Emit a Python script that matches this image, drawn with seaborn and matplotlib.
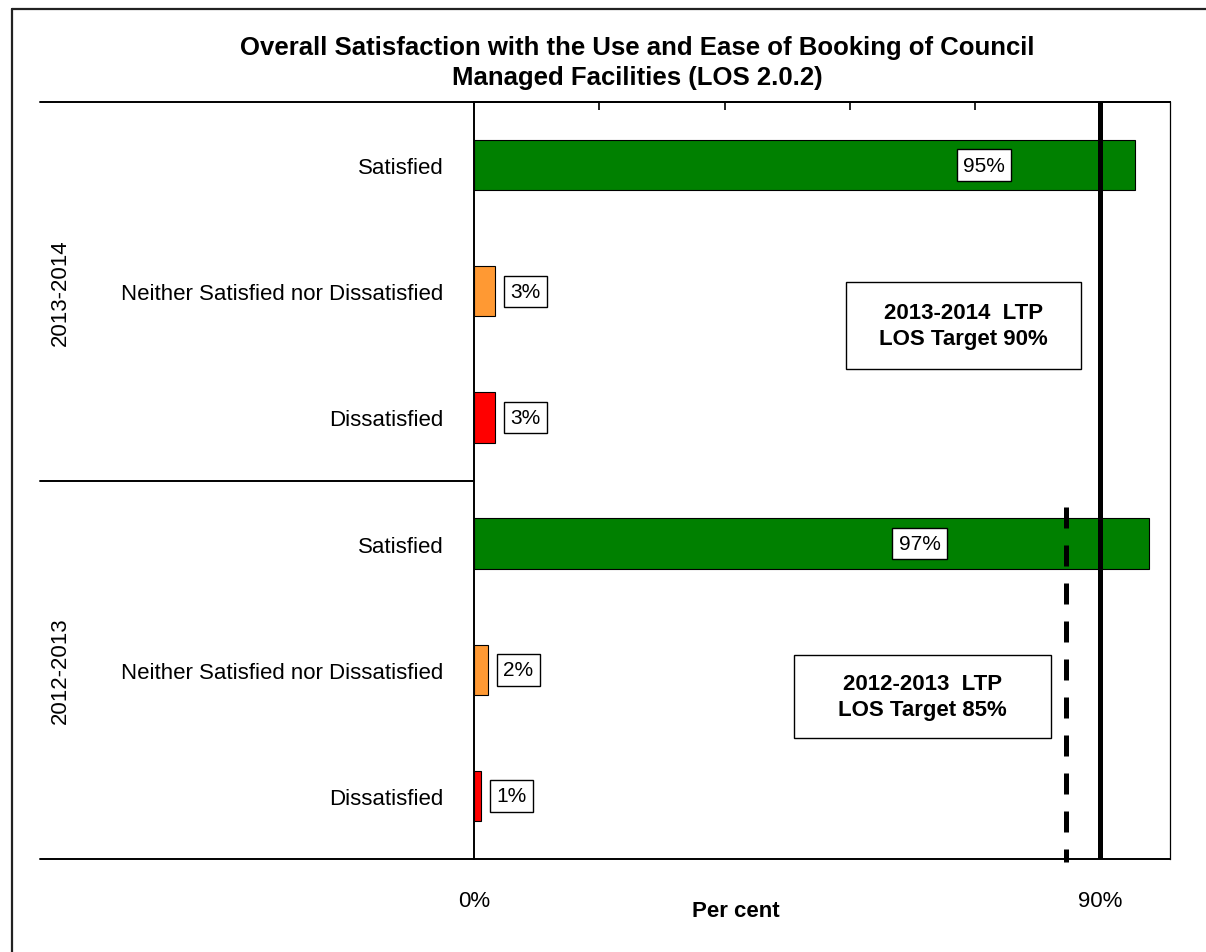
import matplotlib
matplotlib.use("Agg")
import matplotlib.pyplot as plt
import matplotlib.lines as mlines
from matplotlib.patches import Rectangle
import seaborn as sns
import pandas as pd

# ---- data ----
periods = ["2013-2014", "2012-2013"]
categories = ["Satisfied", "Neither Satisfied nor Dissatisfied", "Dissatisfied"]
values_2013_2014 = [95, 3, 3]
values_2012_2013 = [97, 2, 1]
target_2013_2014 = 90
target_2012_2013 = 85
xtick_values = [0, 90]
xtick_labels = ["0%", "90%"]

title = ("Overall Satisfaction with the Use and Ease of Booking of Council\n"
         "Managed Facilities (LOS 2.0.2)")

# ---- style ----
sns.set_theme(style="white")
plt.rcParams["font.family"] = ["Liberation Sans", "DejaVu Sans"]
plt.rcParams.update({"text.color": "black", "axes.labelcolor": "black",
                     "xtick.color": "black", "ytick.color": "black"})

palette = {
    "Satisfied": "#008000",
    "Neither Satisfied nor Dissatisfied": "#FF9933",
    "Dissatisfied": "#FF0000",
}

rows = []
for period, vals in zip(periods, [values_2013_2014, values_2012_2013]):
    for cat, v in zip(categories, vals):
        rows.append({"key": f"{period}|{cat}", "period": period,
                     "category": cat, "value": v})
df = pd.DataFrame(rows)

W, H = 1206, 953
LABEL_FS = 16
fig = plt.figure(figsize=(W / 100, H / 100), dpi=100)
ax = fig.add_axes([474 / W, 1 - 860 / H, (1170 - 474) / W, (860 - 103) / H])

sns.barplot(data=df, x="value", y="key", hue="category", palette=palette,
            saturation=1, dodge=False, width=0.4, orient="h", edgecolor="black",
            linewidth=0.8, legend=False, ax=ax, zorder=3)

ax.set_xlim(0, 100)
ax.set_ylim(len(df) - 0.5, -0.5)
ax.set_xlabel("")
ax.set_ylabel("")

# category labels
ax.set_yticks(range(len(df)))
ax.set_yticklabels(df["category"], fontsize=LABEL_FS)
ax.tick_params(axis="y", length=0, pad=22)

# bottom labels only at 0% and 90%
ax.set_xticks(xtick_values)
ax.set_xticklabels(xtick_labels, fontsize=LABEL_FS)
ax.tick_params(axis="x", length=0, pad=22)

# top tick marks every 18%
top = ax.secondary_xaxis("top")
top.set_xticks(range(0, 91, 18))
top.tick_params(direction="in", length=6, width=1.2, labeltop=False, color="black")
top.spines["top"].set_linewidth(1.4)

for side in ["left", "bottom", "top"]:
    ax.spines[side].set_color("black")
    ax.spines[side].set_linewidth(1.4)
ax.spines["right"].set_color("black")
ax.spines["right"].set_linewidth(0.9)

# target lines
ax.axvline(target_2013_2014, color="black", lw=3.6, zorder=4)
n_first = len(values_2013_2014)
ax.plot([target_2012_2013, target_2012_2013], [n_first - 0.29, len(df) - 0.48],
        color="black", lw=3.6, dashes=(4.2, 3.4), zorder=4, clip_on=False,
        solid_capstyle="butt", dash_capstyle="butt")

# value labels
inside_label_x = {0: 73.3, 3: 64.0}
for i, v in enumerate(df["value"]):
    bbox = dict(boxstyle="square,pad=0.3", fc="white", ec="black", lw=1.0)
    if i in inside_label_x:
        ax.text(inside_label_x[i], i, f"{v}%", ha="center", va="center",
                fontsize=15, bbox=bbox, zorder=5)
    else:
        ax.annotate(f"{v}%", xy=(v, i), xytext=(11, 0), textcoords="offset points",
                    ha="left", va="center", fontsize=15, bbox=bbox, zorder=5)

# target boxes (centre x, centre y, width %, height in rows)
target_boxes = [
    (70.3, 1.27, 33.8, 0.69, periods[0], target_2013_2014),
    (64.4, 4.21, 36.9, 0.66, periods[1], target_2012_2013),
]
for cx, cy, bw, bh, period, tgt in target_boxes:
    ax.add_patch(Rectangle((cx - bw / 2, cy - bh / 2), bw, bh, fc="white",
                           ec="black", lw=1.0, zorder=5))
    ax.text(cx, cy, f"{period}  LTP\nLOS Target {tgt}%", ha="center",
            va="center", fontsize=LABEL_FS, fontweight="bold",
            linespacing=1.3, zorder=6)

# multi-level category axis: separators and group labels
xl = (40 - 474) / (1170 - 474)
trans = ax.get_yaxis_transform()
for yv in [-0.5, n_first - 0.5, len(df) - 0.5]:
    ax.add_line(mlines.Line2D([xl, 0], [yv, yv], transform=trans, color="black",
                              lw=1.4, clip_on=False))
gx = (60 - 474) / (1170 - 474)
for j, period in enumerate(periods):
    ax.text(gx, j * n_first + (n_first - 1) / 2, period, transform=trans,
            rotation=90, ha="center", va="center", fontsize=LABEL_FS)

ax.text(0.376, (860 - 912) / (860 - 103), "Per cent", transform=ax.transAxes,
        ha="center", va="center", fontsize=LABEL_FS, fontweight="bold")

fig.text(637 / W, 1 - 63 / H, title, ha="center", va="center", fontsize=18.5,
         fontweight="bold", linespacing=1.35)

# outer chart frame
fx, fy = 12 / W, 1 - 10 / H
fig.add_artist(mlines.Line2D([fx, 1], [fy, fy], transform=fig.transFigure,
                             color="#222222", lw=1.6))
fig.add_artist(mlines.Line2D([fx, fx], [0, fy], transform=fig.transFigure,
                             color="#222222", lw=1.6))

fig.savefig("out.png", dpi=100, facecolor="white")
